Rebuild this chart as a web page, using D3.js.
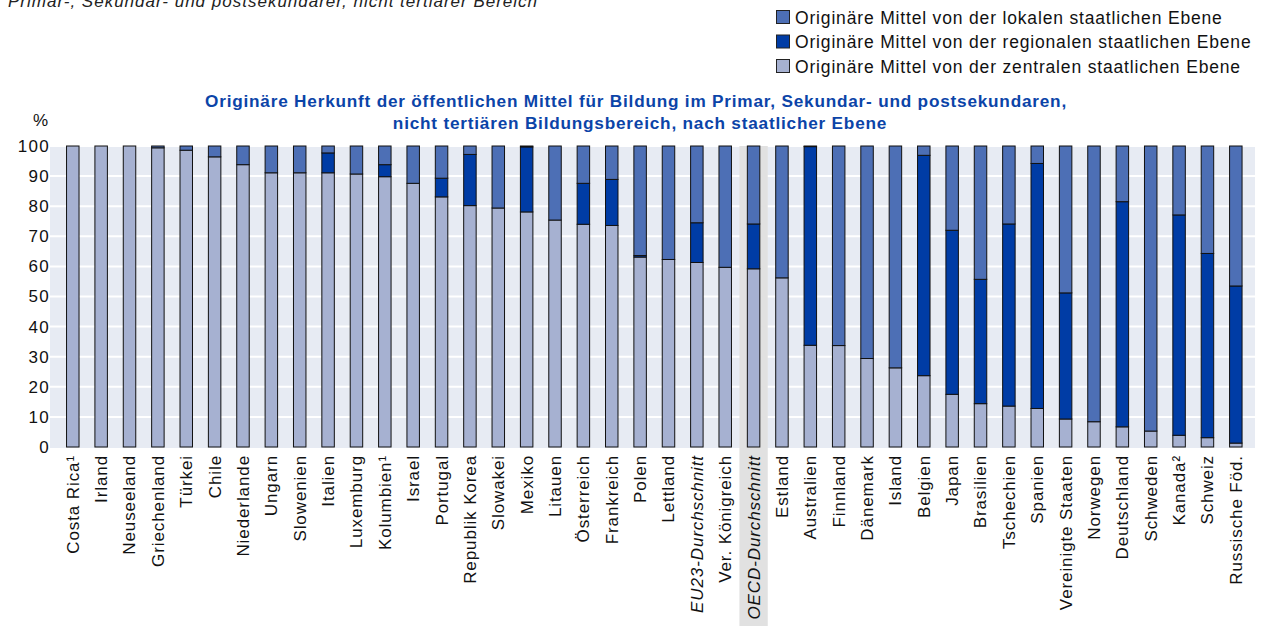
<!DOCTYPE html>
<html>
<head>
<meta charset="utf-8">
<script src="https://cdn.jsdelivr.net/npm/d3@7"></script>
<style>
  body { margin: 0; background: #fff; }
  svg { display: block; font-family: "Liberation Sans", Arial, sans-serif; }
</style>
</head>
<body>
<svg></svg>
<script>
const countries = ["Costa Rica¹", "Irland", "Neuseeland", "Griechenland", "Türkei", "Chile",
  "Niederlande", "Ungarn", "Slowenien", "Italien", "Luxemburg", "Kolumbien¹", "Israel",
  "Portugal", "Republik Korea", "Slowakei", "Mexiko", "Litauen", "Österreich", "Frankreich",
  "Polen", "Lettland", "EU23-Durchschnitt", "Ver. Königreich", "OECD-Durchschnitt", "Estland",
  "Australien", "Finnland", "Dänemark", "Island", "Belgien", "Japan", "Brasilien", "Tschechien",
  "Spanien", "Vereinigte Staaten", "Norwegen", "Deutschland", "Schweden", "Kanada²", "Schweiz",
  "Russische Föd."];

// share from central level (bottom segment)
const central = [100, 100, 100, 99.4, 98.6, 96.4, 93.8, 91.1, 91.1, 91.1, 90.7, 89.8, 87.6,
  83.1, 80.2, 79.4, 78.1, 75.4, 74.0, 73.6, 63.1, 62.3, 61.3, 59.7, 59.2, 56.2,
  33.8, 33.7, 29.4, 26.3, 23.7, 17.5, 14.4, 13.6, 12.8, 9.3, 8.4, 6.7, 5.3, 3.9, 3.1, 1.3];
// share from regional level (middle segment)
const regional = [0, 0, 0, 0, 0, 0, 0, 0, 0, 6.6, 0, 4.0, 0,
  6.2, 17.0, 0, 21.6, 0, 13.6, 15.3, 0.5, 0, 13.2, 0, 14.9, 0,
  66.0, 0, 0, 0, 73.2, 54.5, 41.3, 60.5, 81.4, 41.9, 0, 74.8, 0, 73.2, 61.2, 52.2];
// share from local level (top segment) = remainder
const local = central.map((c, i) => +(100 - c - regional[i]).toFixed(1));

const yTicks = [0, 10, 20, 30, 40, 50, 60, 70, 80, 90, 100];
const italicCats = ["EU23-Durchschnitt", "OECD-Durchschnitt"];
const highlightCat = "OECD-Durchschnitt";

const seriesKeys = ["central", "regional", "local"];
const seriesLabels = {
  local: "Originäre Mittel von der lokalen staatlichen Ebene",
  regional: "Originäre Mittel von der regionalen staatlichen Ebene",
  central: "Originäre Mittel von der zentralen staatlichen Ebene"
};
const colors = { central: "#a6b1d1", regional: "#003ca5", local: "#4d6fb5" };

const width = 1266, height = 626;
const svg = d3.select("svg").attr("width", width).attr("height", height);

const plot = { left: 50, right: 1255, top: 146, bottom: 447 };

const data = countries.map((c, i) => ({ country: c, central: central[i], regional: regional[i], local: local[i] }));
const stacked = d3.stack().keys(seriesKeys)(data);

const x = d3.scaleBand().domain(countries).range([58.6, 1250]).paddingInner(0.56).paddingOuter(0.28);
const y = d3.scaleLinear().domain([0, 100]).range([plot.bottom, plot.top]);

// top-left subtitle, cut off at the top of the picture
svg.append("text")
  .attr("x", 8).attr("y", 7)
  .attr("font-size", 17).attr("letter-spacing", 1).attr("font-style", "italic").attr("fill", "#222")
  .text("Primar-, Sekundar- und postsekundarer, nicht tertiärer Bereich");

// legend
const legendOrder = ["local", "regional", "central"];
const legend = svg.append("g").attr("transform", "translate(776, 10)");
legendOrder.forEach((k, i) => {
  const row = legend.append("g").attr("transform", `translate(0, ${i * 24.5})`);
  row.append("rect").attr("x", 0.5).attr("y", 0.5).attr("width", 13).attr("height", 13)
    .attr("fill", colors[k]).attr("stroke", "#222").attr("stroke-width", 1);
  row.append("text").attr("x", 19).attr("y", 13.5).attr("font-size", 17.5)
    .attr("letter-spacing", 0.83).attr("fill", "#111")
    .text(seriesLabels[k]);
});

// title
const title = svg.append("text").attr("text-anchor", "middle").attr("font-weight", "bold")
  .attr("font-size", 17.2).attr("letter-spacing", 0.79).attr("fill", "#0b44a8");
title.append("tspan").attr("x", 636).attr("y", 107)
  .text("Originäre Herkunft der öffentlichen Mittel für Bildung im Primar, Sekundar- und postsekundaren,");
title.append("tspan").attr("x", 640).attr("y", 129)
  .text("nicht tertiären Bildungsbereich, nach staatlicher Ebene");

svg.append("text").attr("x", 33).attr("y", 126).attr("font-size", 17).attr("fill", "#111").text("%");

// plot background
svg.append("rect").attr("x", plot.left).attr("y", plot.top)
  .attr("width", plot.right - plot.left).attr("height", plot.bottom - plot.top + 1)
  .attr("fill", "#e7ebf3");

// gridlines
svg.append("g").selectAll("line").data(yTicks.filter(t => t > 0)).join("line")
  .attr("x1", plot.left).attr("x2", plot.right)
  .attr("y1", d => y(d)).attr("y2", d => y(d))
  .attr("stroke", "#fff").attr("stroke-width", 2);

// highlight band for OECD average
const step = x.step();
svg.append("rect")
  .attr("x", x(highlightCat) + x.bandwidth() / 2 - step / 2).attr("y", plot.top)
  .attr("width", step).attr("height", height - plot.top)
  .attr("fill", "#e1e1e1");

// y axis
const yAxis = d3.axisLeft(y).tickValues(yTicks).tickSize(0).tickPadding(0);
const yAxisG = svg.append("g").attr("transform", "translate(50, 0)").call(yAxis);
yAxisG.select(".domain").remove();
yAxisG.selectAll("text").attr("font-size", 17).attr("letter-spacing", 1.3).attr("fill", "#111")
  .attr("font-family", "Liberation Sans, Arial, sans-serif");

// stacked bars
svg.append("g").selectAll("g").data(stacked).join("g")
  .attr("fill", d => colors[d.key])
  .selectAll("rect").data(d => d.filter(s => s[1] - s[0] > 0)).join("rect")
  .attr("x", d => x(d.data.country))
  .attr("y", d => y(d[1]))
  .attr("width", x.bandwidth())
  .attr("height", d => y(d[0]) - y(d[1]))
  .attr("stroke", "#111").attr("stroke-width", 1);

// x axis labels
const xAxis = d3.axisBottom(x).tickSize(0).tickPadding(0);
const xAxisG = svg.append("g").attr("transform", `translate(0, ${plot.bottom})`).call(xAxis);
xAxisG.select(".domain").remove();
xAxisG.selectAll("text")
  .attr("font-size", 17).attr("letter-spacing", 0.9).attr("fill", "#111")
  .attr("font-family", "Liberation Sans, Arial, sans-serif")
  .attr("font-style", d => italicCats.includes(d) ? "italic" : "normal")
  .attr("text-anchor", "end")
  .attr("transform", "rotate(-90)")
  .attr("x", -8).attr("y", 0).attr("dy", "0.35em");
</script>
</body>
</html>
